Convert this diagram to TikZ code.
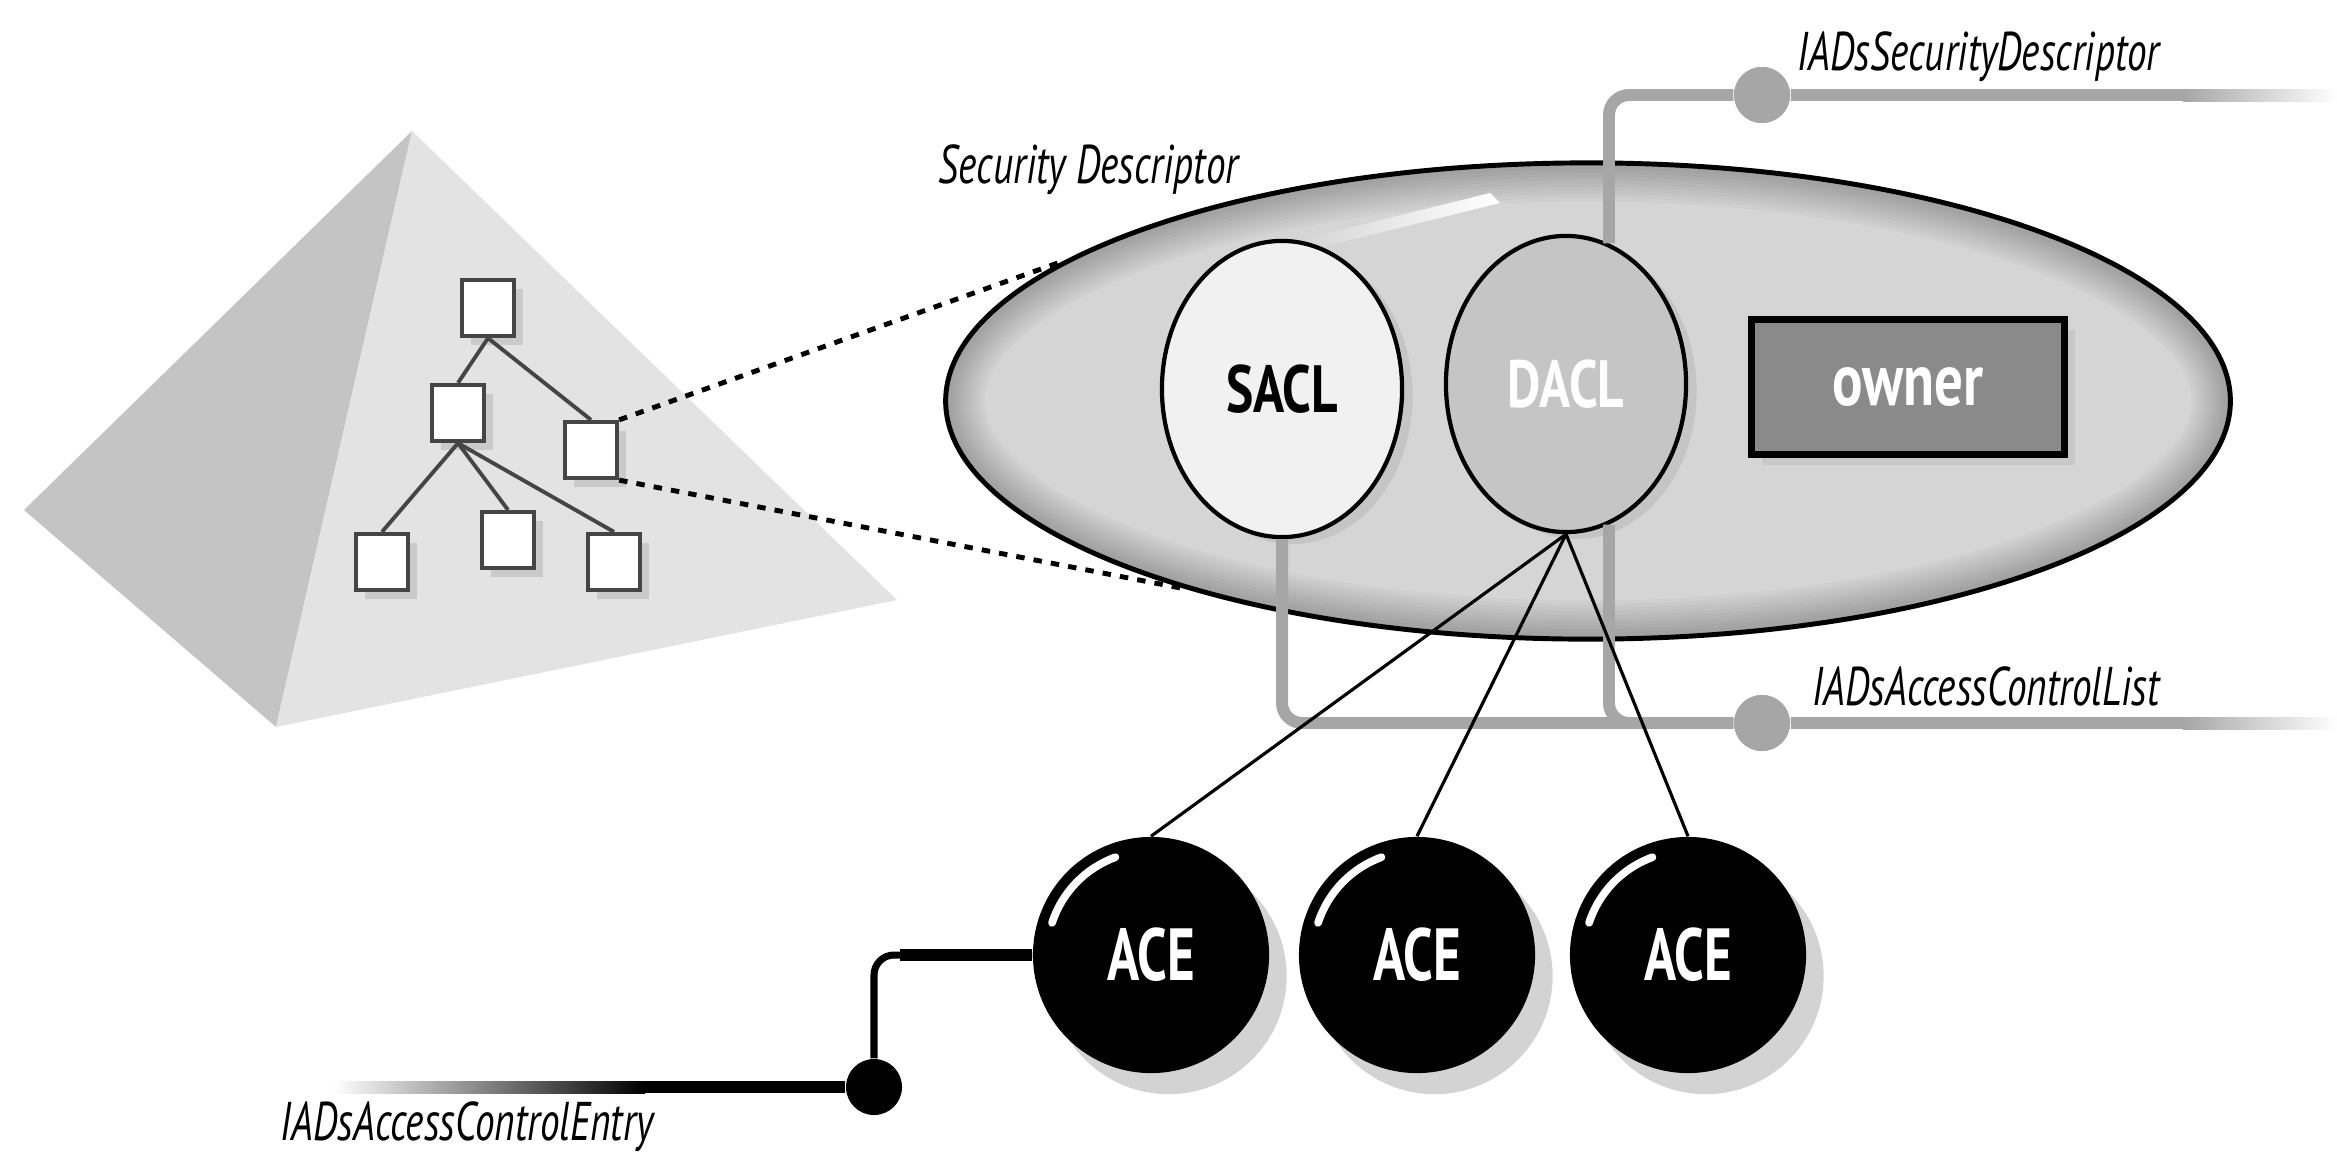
\documentclass[tikz,border=0pt]{standalone}
\usepackage{fontspec}
\setmainfont{PT Sans}
\newfontfamily\narrowfont[FakeStretch=0.72]{PT Sans}
\newfontfamily\boldnarrow[FakeStretch=0.77]{PT Sans}
\usetikzlibrary{shapes.geometric,shadows}

\definecolor{faceleft}{HTML}{C4C4C4}
\definecolor{faceright}{HTML}{E3E3E3}
\definecolor{sdfill}{HTML}{D5D5D5}
\definecolor{saclfill}{HTML}{F1F1F1}
\definecolor{daclfill}{HTML}{C5C5C5}
\definecolor{ownerfill}{HTML}{8A8A8A}
\definecolor{linkgray}{HTML}{A6A6A6}
\definecolor{treeline}{HTML}{454545}

\tikzset{
  treebox/.style={draw=treeline, line width=1.2pt, fill=white, inner sep=0pt,
    minimum width=0.52cm, minimum height=0.56cm,
    drop shadow={shadow xshift=2.5pt, shadow yshift=-2.5pt, opacity=0.25}},
  treeedge/.style={treeline, line width=1.1pt},
  zoomline/.style={black, line width=1.4pt, dash pattern=on 2.4pt off 2.6pt},
  acl/.style={ellipse, draw=black, line width=1.2pt, inner sep=0pt,
    minimum width=2.4cm, minimum height=2.96cm,
    font=\boldnarrow\bfseries\fontsize{19}{20}\selectfont,
    drop shadow={shadow xshift=3pt, shadow yshift=-2pt, opacity=0.18}},
  ace/.style={circle, fill=black, inner sep=0pt, minimum size=2.36cm, text=white,
    font=\narrowfont\bfseries\fontsize{21}{22}\selectfont,
    drop shadow={shadow xshift=5pt, shadow yshift=-6pt, opacity=0.35}},
  link/.style={linkgray, line width=3.4pt, rounded corners=0.2cm},
  hub/.style={circle, inner sep=0pt, minimum size=0.56cm},
  aceedge/.style={black, line width=0.9pt},
  tag/.style={inner sep=0pt, font=\narrowfont\itshape\fontsize{15.5}{16}\selectfont}
}

\begin{document}
\begin{tikzpicture}[x=0.01cm, y=-0.01cm]
  \useasboundingbox (0,0) rectangle (2337,1151);

  % pyramid with the directory tree
  \fill[faceleft] (412,131) -- (24,510) -- (276,727) -- cycle;
  \fill[faceright] (412,131) -- (276,727) -- (897,600) -- cycle;

  \node[treebox] (t0) at (488,308) {};
  \node[treebox] (t1) at (458,413) {};
  \node[treebox] (t2) at (591,450) {};
  \node[treebox] (t3) at (382,562) {};
  \node[treebox] (t4) at (508,540) {};
  \node[treebox] (t5) at (614,562) {};
  \draw[treeedge] (t0.south) -- (t1.north);
  \draw[treeedge] (t0.south) -- (t2.north);
  \foreach \b in {t3,t4,t5}
    \draw[treeedge] (t1.south) -- (\b.north);

  % security descriptor
  \node[ellipse, draw=black, fill=sdfill, line width=1.4pt, inner sep=0pt,
        minimum width=12.84cm, minimum height=4.76cm] (sd) at (1588,401) {};
  \begin{scope}
    \clip (1588,401) ellipse [x radius=6.42cm, y radius=2.38cm];
    \foreach \w in {2,4,...,22}
      \draw[black, opacity=0.025, line width=\w pt] (1588,401) ellipse [x radius=6.42cm, y radius=2.38cm];
  \end{scope}
  \shade[left color=sdfill, right color=white] (1300,240) -- (1490,193) -- (1500,203) -- (1310,250) -- cycle;

  \draw[zoomline] (t2.north east) -- (sd.165);
  \draw[zoomline] (t2.south east) -- (sd.205);

  % interface lines
  \node[hub, fill=linkgray] (sdhub) at (1762,95) {};
  \node[hub, fill=linkgray] (aclhub) at (1762,723) {};
  \coordinate (sdfade) at (2183,95);
  \coordinate (aclfade) at (2183,723);

  \node[acl, fill=saclfill] (sacl) at (1282,389) {SACL};
  \node[acl, fill=daclfill, text=white] (dacl) at (1566,384) {DACL};

  \draw[link] (dacl.73) |- (sdhub) -- (sdfade);
  \draw[link] (sacl.south) |- (aclhub) -- (aclfade);
  \draw[link] (dacl.-73) |- (aclhub);
  \shade[left color=linkgray, right color=white] (2183,89) rectangle (2337,101);
  \shade[left color=linkgray, right color=white] (2183,717) rectangle (2337,729);
  \node[hub, fill=linkgray] at (sdhub) {};
  \node[hub, fill=linkgray] at (aclhub) {};

  \node[draw=black, fill=ownerfill, line width=2pt, minimum width=3.13cm, minimum height=1.35cm,
        text=white, font=\boldnarrow\bfseries\fontsize{21}{22}\selectfont,
        drop shadow={shadow xshift=3pt, shadow yshift=-3pt, opacity=0.15}] (owner) at (1908,387) {owner};

  % access control entries
  \node[ace] (ace1) at (1151,955) {ACE};
  \node[ace] (ace2) at (1417,955) {ACE};
  \node[ace] (ace3) at (1688,955) {ACE};
  \foreach \a in {ace1,ace2,ace3} {
    \draw[white, line width=2.2pt, line cap=round] ([shift={(110:1.04cm)}]\a.center) arc[start angle=110, end angle=162, radius=1.04cm];
    \draw[aceedge] (dacl.south) -- (\a.north);
  }

  \node[hub, fill=black] (acehub) at (874,1087) {};
  \coordinate (entryfade) at (645,1087);
  \draw[black, line width=2pt, rounded corners=0.2cm] (ace1.west) -| (acehub);
  \draw[black, line width=3.2pt] (ace1.west) -- (900,955);
  \draw[black, line width=3.2pt] (acehub) -- (entryfade);
  \shade[left color=white, right color=black] (333,1081) rectangle (645,1093);

  % labels
  \node[tag, anchor=base west] at (938,183) {Security Descriptor};
  \node[tag, anchor=base west] at (1797,70) {IADsSecurityDescriptor};
  \node[tag, anchor=base west] at (1812,705) {IADsAccessControlList};
  \node[tag, anchor=base west] at (280,1140) {IADsAccessControlEntry};
\end{tikzpicture}
\end{document}
